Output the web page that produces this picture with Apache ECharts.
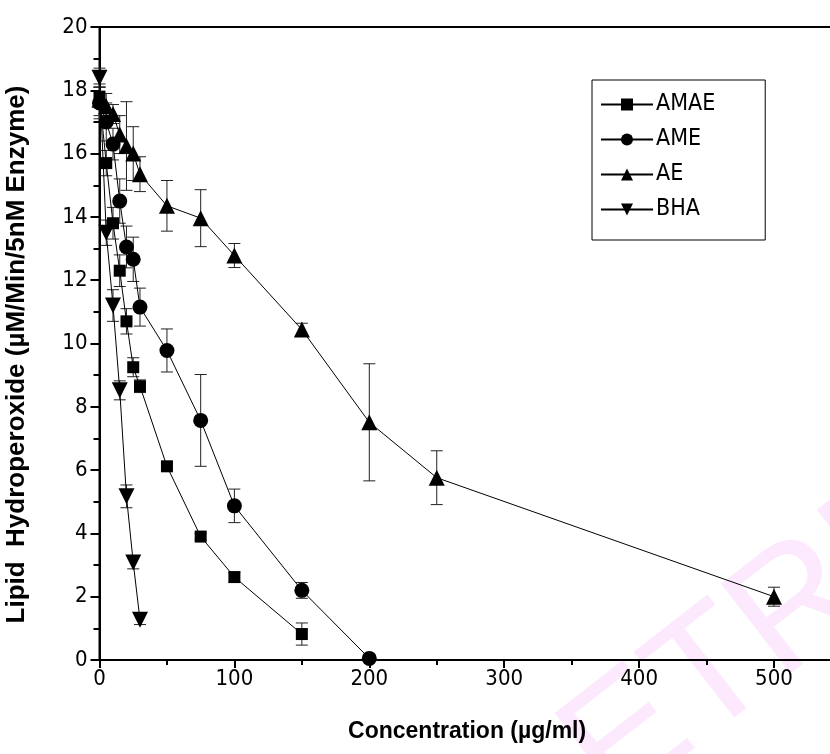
<!DOCTYPE html>
<html>
<head>
<meta charset="utf-8">
<script src="https://cdn.jsdelivr.net/npm/echarts@6/dist/echarts.min.js"></script>
<style>html,body{margin:0;padding:0;background:#fff}#c{width:830px;height:754px}</style>
</head>
<body>
<div id="c"></div>
<script>
// ---- data ----
const amaeX = [0, 5, 10, 15, 20, 25, 30, 50, 75, 100, 150];
const amaeY = [17.8, 15.7, 13.8, 12.3, 10.7, 9.25, 8.65, 6.12, 3.9, 2.62, 0.82];
const amaeE = [0.3, 0.4, 0.5, 0.5, 0.4, 0.3, 0.2, 0.1, 0.1, 0.15, 0.35];

const ameX = [0, 5, 10, 15, 20, 25, 30, 50, 75, 100, 150, 200];
const ameY = [17.6, 17.0, 16.3, 14.5, 13.05, 12.66, 11.15, 9.78, 7.57, 4.87, 2.2, 0.05];
const ameE = [0.5, 0.6, 0.5, 0.7, 0.66, 0.7, 0.6, 0.68, 1.45, 0.53, 0.25, 0.05];

const aeX = [0, 5, 10, 15, 20, 25, 30, 50, 75, 100, 150, 200, 250, 500];
const aeY = [17.7, 17.5, 17.25, 16.6, 16.24, 16.0, 15.35, 14.35, 13.96, 12.78, 10.44, 7.51, 5.76, 2.0];
const aeE = [0.5, 0.4, 0.3, 0.6, 1.4, 0.85, 0.55, 0.8, 0.9, 0.38, 0.2, 1.85, 0.85, 0.3];

const bhaX = [0, 5, 10, 15, 20, 25, 30];
const bhaY = [18.4, 13.5, 11.2, 8.52, 5.17, 3.08, 1.27];
const bhaE = [0.3, 0.4, 0.5, 0.3, 0.36, 0.2, 0.15];

const seriesNames = ['AMAE', 'AME', 'AE', 'BHA'];
const xTitle = 'Concentration (\u00b5g/ml)';
const yTitle = 'Lipid  Hydroperoxide (\u00b5M/Min/5nM Enzyme)';
const watermark = 'ETRI';

// ---- chart ----
const FONT = "'DejaVu Sans Condensed', 'Liberation Sans Narrow', 'Liberation Sans', Arial, sans-serif";
const BFONT = "'Liberation Sans', Arial, sans-serif";
const pairs = (xs, ys) => xs.map((x, i) => [x, ys[i]]);
const errs = (xs, ys, es) => xs.map((x, i) => [x, ys[i] - es[i], ys[i] + es[i]]);

function errSeries(data) {
  return {
    type: 'custom',
    silent: true,
    z: 1,
    data: data,
    encode: { x: 0, y: [1, 2] },
    renderItem: function (params, api) {
      const x = api.value(0);
      const lo = api.coord([x, api.value(1)]);
      const hi = api.coord([x, api.value(2)]);
      const w = 6;
      const st = { stroke: '#222', lineWidth: 1, fill: null };
      return {
        type: 'group',
        children: [
          { type: 'line', shape: { x1: lo[0], y1: lo[1], x2: hi[0], y2: hi[1] }, style: st },
          { type: 'line', shape: { x1: lo[0] - w, y1: lo[1], x2: lo[0] + w, y2: lo[1] }, style: st },
          { type: 'line', shape: { x1: hi[0] - w, y1: hi[1], x2: hi[0] + w, y2: hi[1] }, style: st }
        ]
      };
    }
  };
}

function lineSeries(name, data, symbol, size, rotate) {
  return {
    type: 'line',
    name: name,
    data: data,
    symbol: symbol,
    symbolSize: size,
    symbolRotate: rotate || 0,
    showAllSymbol: true,
    z: 3,
    lineStyle: { color: '#000', width: 1 },
    itemStyle: { color: '#000', borderWidth: 0 },
    emphasis: { disabled: true },
    animation: false
  };
}

const chart = echarts.init(document.getElementById('c'), null, { renderer: 'canvas' });
chart.setOption({
  backgroundColor: '#fff',
  animation: false,
  grid: {
    left: 99.5, top: 27, bottom: 94, right: -4.7,
    outerBoundsMode: 'none',
    containLabel: false,
    show: true, borderColor: '#000', borderWidth: 2, backgroundColor: 'transparent'
  },
  graphic: [{
    type: 'text',
    z: -10,
    x: 535, y: 710,
    rotation: 0.66,
    style: {
      text: watermark,
      font: "165px 'Liberation Sans', Arial, sans-serif",
      fill: '#fde9fd',
      textBaseline: 'bottom'
    }
  }],
  legend: {
    orient: 'vertical',
    left: 592, top: 80,
    data: seriesNames,
    itemWidth: 52, itemHeight: 15,
    itemGap: 12,
    padding: [13, 50, 19, 8],
    borderColor: '#000', borderWidth: 1,
    backgroundColor: '#fff',
    textStyle: { fontFamily: FONT, fontSize: 23, color: '#000', padding: [0, 0, 0, -2] },
    selectedMode: false
  },
  xAxis: {
    type: 'value',
    min: 0, max: 545, interval: 100,
    name: xTitle,
    nameLocation: 'middle',
    nameGap: 60,
    nameTextStyle: { fontFamily: BFONT, fontSize: 23, fontWeight: 'bold', color: '#000' },
    axisLine: { show: true, onZero: false, lineStyle: { color: '#000', width: 2 } },
    axisTick: { show: true, inside: false, length: 8, lineStyle: { color: '#000', width: 2 } },
    minorTick: { show: true, splitNumber: 2, length: 5, lineStyle: { color: '#000', width: 2 } },
    axisLabel: {
      fontFamily: FONT, fontSize: 22, color: '#000', margin: 8,
      formatter: v => (v > 500 ? '' : String(v))
    },
    splitLine: { show: false }
  },
  yAxis: {
    type: 'value',
    min: 0, max: 20, interval: 2,
    name: yTitle,
    nameLocation: 'middle',
    nameGap: 70,
    nameRotate: 90,
    nameTextStyle: { fontFamily: BFONT, fontSize: 26, fontWeight: 'bold', color: '#000', padding: [0, 22, 0, 0] },
    axisLine: { show: true, lineStyle: { color: '#000', width: 2 } },
    axisTick: { show: true, inside: false, length: 9, lineStyle: { color: '#000', width: 2 } },
    minorTick: { show: true, splitNumber: 2, length: 6, lineStyle: { color: '#000', width: 2 } },
    axisLabel: { fontFamily: FONT, fontSize: 22, color: '#000', margin: 12 },
    splitLine: { show: false }
  },
  series: [
    errSeries(errs(amaeX, amaeY, amaeE)),
    errSeries(errs(ameX, ameY, ameE)),
    errSeries(errs(aeX, aeY, aeE)),
    errSeries(errs(bhaX, bhaY, bhaE)),
    lineSeries('AMAE', pairs(amaeX, amaeY), 'rect', 12),
    lineSeries('AME', pairs(ameX, ameY), 'circle', 15),
    lineSeries('AE', pairs(aeX, aeY), 'triangle', 16),
    lineSeries('BHA', pairs(bhaX, bhaY), 'triangle', 16, 180)
  ]
});
</script>
</body>
</html>
